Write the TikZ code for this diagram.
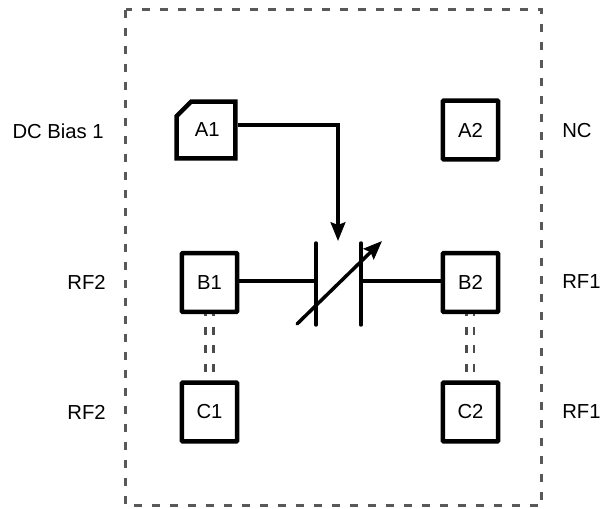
\documentclass[tikz,border=0pt]{standalone}
\usepackage{fontspec}
\setmainfont{Liberation Sans}
\usetikzlibrary{arrows.meta,shapes.misc}
\tikzset{
  x=0.75pt,y=-0.75pt,
  pin/.style={draw=black,line width=3.3pt,minimum width=41.5pt,minimum height=44pt,inner sep=0pt,font=\fontsize{15.2}{17}\selectfont,rounded corners=0.5pt},
  pinA/.style={chamfered rectangle,chamfered rectangle corners=north west,chamfered rectangle xsep=5.5pt,chamfered rectangle ysep=5.5pt,draw=black,line width=3.3pt,minimum width=44pt,minimum height=42.5pt,inner sep=0pt,font=\fontsize{15.2}{17}\selectfont},
  lbl/.style={font=\fontsize{15.2}{17}\selectfont,inner sep=0pt},
  wire/.style={draw=black,line width=2.6pt},
  plate/.style={draw=black,line width=2.6pt,line cap=round},
  bond/.style={draw=black!70,line width=2.2pt,dash pattern=on 6pt off 8pt,dash phase=4.5pt},
  outline/.style={draw=black!65,line width=2.25pt,dash pattern=on 6pt off 7.5pt},
  tipped/.style={-{Stealth[length=14pt,width=11pt,inset=2pt]}}
}
\begin{document}
\begin{tikzpicture}
\useasboundingbox (0,0) rectangle (602,508);
\fill[white] (0,0) rectangle (602,508);
\draw[outline] (125.5,9.5) rectangle (541.5,505.5);
\node[pinA] (A1) at (206,130) {\kern2pt A1};
\node[pin] (A2) at (470.5,130) {A2};
\node[pin] (B1) at (209.5,282.5) {B1};
\node[pin] (B2) at (470.5,282.5) {B2};
\node[pin] (C1) at (209.5,412) {C1};
\node[pin] (C2) at (470.5,412) {C2};
\node[lbl,anchor=east] (L1) at (104,131) {DC Bias 1};
\node[lbl,anchor=east] (L2) at (106,282) {RF2};
\node[lbl,anchor=east] (L3) at (106,412) {RF2};
\node[lbl,anchor=west] (R1) at (562,131) {NC};
\node[lbl,anchor=west] (R2) at (562,282) {RF1};
\node[lbl,anchor=west] (R3) at (562,412) {RF1};
\coordinate (bend) at (338,125);
\coordinate (tip) at (338,241);
\coordinate (pa1) at (316,243);
\coordinate (pa2) at (316,325);
\coordinate (pb1) at (361,243);
\coordinate (pb2) at (361,325);
\coordinate (ma) at (316,281);
\coordinate (mb) at (361,281);
\coordinate (va) at (297,324);
\coordinate (vb) at (382,241);
\draw[wire,tipped] (A1.east |- bend) -- (bend) -- (tip);
\draw[plate] (pa1) -- (pa2);
\draw[plate] (pb1) -- (pb2);
\draw[wire] (B1.east |- ma) -- (ma);
\draw[wire] (mb) -- (B2.west |- mb);
\draw[plate,tipped] (va) -- (vb);
\foreach \n/\m/\xa/\xb in {B1/C1/205.5/213.5,B2/C2/466.5/474}{
  \coordinate (u) at (\xa,300); \coordinate (w) at (\xb,300);
  \draw[bond] (\n.south -| u) -- (\m.north -| u);
  \draw[bond] (\n.south -| w) -- (\m.north -| w);
}
\end{tikzpicture}
\end{document}
